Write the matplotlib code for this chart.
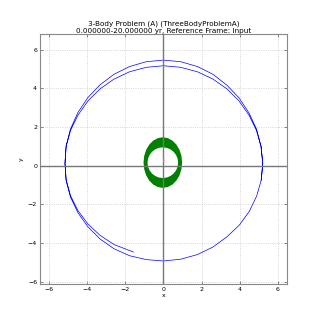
import matplotlib
matplotlib.use("Agg")
import matplotlib.pyplot as plt
from matplotlib.path import Path
from matplotlib.patches import PathPatch

# body 1 trajectory (blue)
orbit_x = [-1.58, -2.6, -3.34, -3.98, -4.5, -4.89, -5.12, -5.18,
           -5.12, -4.89, -4.5, -3.98, -3.34, -2.6, -1.78, -0.9, 0.0,
           0.9, 1.78, 2.6, 3.34, 3.98, 4.5, 4.89, 5.13, 5.22,
           5.14, 4.9, 4.52, 4.0, 3.35, 2.6, 1.78, 0.9, 0.0,
           -0.9, -1.78, -2.6, -3.34, -3.98, -4.5, -4.89, -5.12, -5.18,
           -5.12, -4.89, -4.5, -3.98, -3.34, -2.6, -1.78, -0.9, 0.0,
           0.9, 1.78, 2.6, 3.34, 3.98, 4.5, 4.89, 5.13, 5.22, 5.14]
orbit_y = [-4.47, -4.08, -3.6, -3.01, -2.32, -1.55, -0.73, 0.12,
           0.99, 1.82, 2.61, 3.34, 3.97, 4.48, 4.86, 5.09, 5.17,
           5.09, 4.86, 4.48, 3.97, 3.34, 2.61, 1.82, 0.99, 0.12,
           -0.74, -1.57, -2.35, -3.06, -3.67, -4.21, -4.6, -4.84, -4.93,
           -4.86, -4.66, -4.3, -3.79, -3.16, -2.43, -1.63, -0.77, 0.12,
           1.02, 1.9, 2.75, 3.52, 4.18, 4.73, 5.13, 5.38, 5.46,
           5.38, 5.13, 4.73, 4.16, 3.5, 2.72, 1.9, 1.0, 0.12, -0.75]

# body 2 (green band): outer and inner edge of the swept orbits
band_out_x = [0.98, 0.945, 0.844, 0.683, 0.473, 0.228, -0.035, -0.298, -0.543,
              -0.753, -0.914, -1.015, -1.05, -1.015, -0.914, -0.753, -0.543,
              -0.298, -0.035, 0.228, 0.473, 0.683, 0.844, 0.945]
band_out_y = [0.16, 0.499, 0.815, 1.086, 1.294, 1.425, 1.47, 1.425, 1.294,
              1.086, 0.815, 0.499, 0.16, -0.179, -0.495, -0.766, -0.974,
              -1.105, -1.15, -1.105, -0.974, -0.766, -0.495, -0.179]
band_in_x = [0.77, 0.743, 0.662, 0.534, 0.368, 0.173, -0.035, -0.243, -0.438,
             -0.604, -0.732, -0.813, -0.84, -0.813, -0.732, -0.604, -0.438,
             -0.243, -0.035, 0.173, 0.368, 0.534, 0.662, 0.743]
band_in_y = [0.155, 0.361, 0.553, 0.717, 0.843, 0.923, 0.95, 0.923, 0.843,
             0.717, 0.553, 0.361, 0.155, -0.051, -0.243, -0.407, -0.533,
             -0.613, -0.64, -0.613, -0.533, -0.407, -0.243, -0.051]

# body 3 (tiny, near origin)
core_x = [0.02, 0.03, 0.02]
core_y = [0.2, 0.28, 0.35]

title = "3-Body Problem (A) (ThreeBodyProblemA)\n0.000000-20.000000 yr, Reference Frame: Input"

fig = plt.figure(figsize=(3.19, 3.2), dpi=100)
ax = fig.add_axes([0.125, 0.112, 0.775, 0.781])

ax.axhline(0, color='#777777', lw=1.0, zorder=3)
ax.axvline(0, color='#777777', lw=1.0, zorder=3)

ax.plot(orbit_x, orbit_y, color='#0000ff', lw=0.5, zorder=2)

verts = list(zip(band_out_x, band_out_y)) + [(band_out_x[0], band_out_y[0])]
codes = [Path.MOVETO] + [Path.LINETO] * (len(band_out_x) - 1) + [Path.CLOSEPOLY]
inner = list(zip(band_in_x, band_in_y))[::-1]
verts += inner + [inner[0]]
codes += [Path.MOVETO] + [Path.LINETO] * (len(inner) - 1) + [Path.CLOSEPOLY]
ax.add_patch(PathPatch(Path(verts, codes), facecolor='#008000', edgecolor='none',
                       zorder=2))

ax.plot(core_x, core_y, color='#ff8080', lw=0.6, zorder=4)

ax.set_xlim(-6.5, 6.5)
ax.set_ylim(-6.13, 6.8)
ax.set_xticks([-6, -4, -2, 0, 2, 4, 6])
ax.set_yticks([-6, -4, -2, 0, 2, 4, 6])
ax.grid(True, color='#c8c8c8', linestyle=':', lw=0.6)
ax.tick_params(direction='in', labelsize=4.5, length=2, width=0.5,
               top=True, right=True, pad=2, colors='#555555', labelcolor='black')
for s in ax.spines.values():
    s.set_color('#888888')
    s.set_linewidth(0.8)

ax.set_xlabel('x', fontsize=4.5, labelpad=1)
ax.set_ylabel('y', fontsize=4.5, labelpad=3)
ax.set_title(title, fontsize=5.2, pad=1, linespacing=1.1)

fig.savefig('out.png', dpi=100)
